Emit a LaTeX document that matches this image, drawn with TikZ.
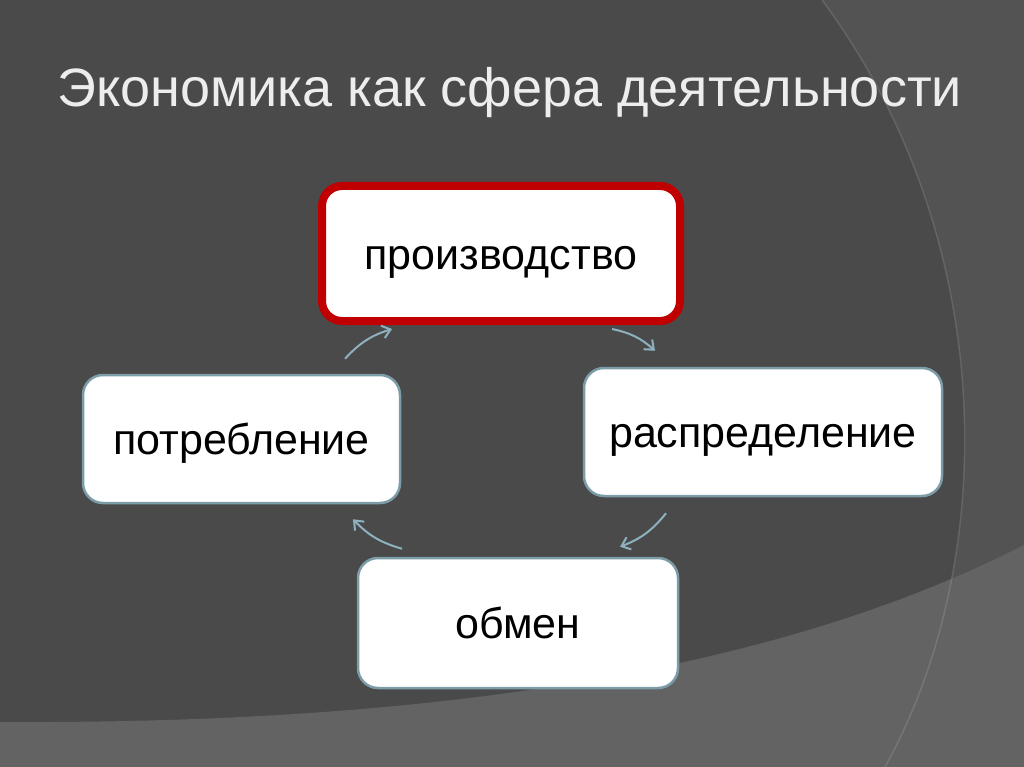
\documentclass[tikz,border=0pt]{standalone}
\usepackage{fontspec}
\setmainfont{Liberation Sans}
\usepackage{tikz}
\usepackage{xcolor}
\usetikzlibrary{positioning, calc, arrows.meta}

\definecolor{slidebg}{HTML}{4A4A4A}
\definecolor{slideside}{HTML}{535353}
\definecolor{slideband}{HTML}{636363}
\definecolor{titlegray}{HTML}{EDEDED}
\definecolor{boxline}{HTML}{7C9DA8}
\definecolor{cycblue}{HTML}{8DB1BE}
\definecolor{mainred}{HTML}{C00000}

\begin{document}
\begin{tikzpicture}[x=1pt, y=-1pt,
    stage/.style={draw=boxline, line width=2.5pt, fill=white, rounded corners=20pt,
        minimum height=128pt, text height=31pt, text depth=0pt, text=black,
        font=\fontsize{43}{46}\selectfont},
    cyc/.style={draw=cycblue, line width=2pt, -{Straight Barb[length=8pt, width=13pt]}, bend left=15}]
        \useasboundingbox (0, 0) rectangle (1024, 767);
        % background of the slide
        \fill[slidebg] (0, 0) rectangle (1024, 767);
        \fill[slideside] (822, 0) .. controls (1000, 240) and (1000, 560) .. (885, 767)
            -- (1024, 767) -- (1024, 0) -- cycle;
        \fill[slideband] (0, 722) .. controls (400, 724) and (760, 680) .. (1024, 545)
            -- (1024, 767) -- (0, 767) -- cycle;
        \draw[white, opacity=0.12, line width=1.5pt] (822, 0) .. controls (1000, 240) and (1000, 560) .. (885, 767);
        
        \node[anchor=base west, inner sep=0pt, text=titlegray, font=\fontsize{54}{60}\selectfont] (title) at (57, 107) {Экономика как сфера деятельности};
        
        \node[stage, draw=mainred, line width=8pt, minimum width=358pt, minimum height=135pt] (proizv) at (501, 253.5) {производство};
        \node[stage, minimum width=358pt] (raspr) at (763, 432) {распределение};
        \node[stage, minimum width=317pt] (potr) at (241.5, 439) {потребление};
        \node[stage, minimum width=320pt, minimum height=130pt] (obmen) at (518, 623) {обмен};
        
        \draw[cyc] ($(potr.north)+(103.5, -15)$) to ($(proizv.south)+(-109, 4)$);
        \draw[cyc] ($(proizv.south)+(111, 4)$) to ($(raspr.north)+(-108, -16)$);
        \draw[cyc] ($(raspr.south)+(-97, 16)$) to ($(obmen.north)+(102, -10)$);
        \draw[cyc] ($(obmen.north)+(-116, -8)$) to ($(potr.south)+(111.5, 15)$);
    \end{tikzpicture}
\end{document}
